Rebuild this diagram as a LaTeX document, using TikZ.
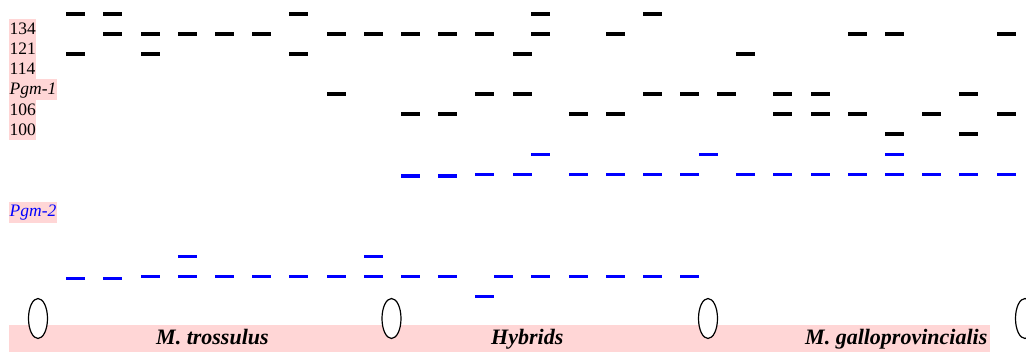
\documentclass[tikz,border=0pt]{standalone}
\usepackage{fontspec}
\setmainfont{Liberation Serif}
\definecolor{bandpink}{RGB}{255,214,214}
\definecolor{pgmblue}{RGB}{0,0,255}
\begin{document}
\begin{tikzpicture}[x=1pt,y=-1pt,
  rowlabel/.style={anchor=base west,inner sep=0pt,font=\fontsize{17.5}{20}\selectfont},
  grouplabel/.style={anchor=base west,inner sep=0pt,font=\fontsize{22}{26}\selectfont\bfseries\itshape},
  blackband/.style={fill=black},
  blueband/.style={fill=pgmblue},
  well/.style={draw=black,line width=1.2pt,fill=white}]
\useasboundingbox (0,0) rectangle (1026,352);
% label backgrounds
\fill[bandpink] (9,19.5) rectangle (36,140.5);
\fill[bandpink] (36,79) rectangle (57,100);
\fill[bandpink] (9,201.7) rectangle (57,223);
% bottom band
\fill[bandpink] (9,325) rectangle (990,352);
% row labels
\node[rowlabel] (l134) at (9.5,35) {134};
\node[rowlabel] (l121) at (9.5,55) {121};
\node[rowlabel] (l114) at (9.5,75) {114};
\node[rowlabel] (lpgm1) at (9.5,95) {\itshape Pgm-1};
\node[rowlabel] (l106) at (9.5,115.5) {106};
\node[rowlabel] (l100) at (9.5,135.5) {100};
\node[rowlabel,text=pgmblue] (lpgm2) at (9.5,217) {\itshape Pgm-2};
% black bands (Pgm-1)
\foreach \x in {66,103,289,531,643.3} \fill[blackband] (\x,12) rectangle ++(19,4);
\foreach \x in {103,140.5,177.6,214.8,252,326.5,363.6,401,438,475,531,606,847.7,885,996.7} \fill[blackband] (\x,32) rectangle ++(19,4);
\foreach \x in {66,140.5,289,512.5,736} \fill[blackband] (\x,52) rectangle ++(19,4);
\foreach \x in {326.5,475,512.5,643.3,680,717.3,773.3,810.7,959.3} \fill[blackband] (\x,92) rectangle ++(19,4);
\foreach \x in {401,438,568.7,606,773.3,810.7,847.7,922.3,996.7} \fill[blackband] (\x,112) rectangle ++(19,4);
\foreach \x in {885,959.3} \fill[blackband] (\x,132) rectangle ++(19,4);
% blue bands (Pgm-2)
\foreach \x in {531.3,699,885} \fill[blueband] (\x,152.6) rectangle ++(19,3.4);
\foreach \x in {401,438} \fill[blueband] (\x,174.5) rectangle ++(19,3.4);
\foreach \x in {475,512.5,568.7,606,643.3,680,736,773.3,810.7,847.7,885,922.3,959.3,996.7} \fill[blueband] (\x,173) rectangle ++(19,3.4);
\foreach \x in {177.6,363.6} \fill[blueband] (\x,255) rectangle ++(19,3.4);
\foreach \x in {66,103} \fill[blueband] (\x,276.6) rectangle ++(19,3.4);
\foreach \x in {140.5,177.6,214.8,252,289,326.5,363.6,401,438,494,531.3,568.7,606,643.3,680} \fill[blueband] (\x,275) rectangle ++(19,3.4);
\foreach \x in {475} \fill[blueband] (\x,295) rectangle ++(19,3.4);
% wells
\draw[well] (38,318.5) ellipse [x radius=9.5,y radius=20];
\draw[well] (391.5,318.5) ellipse [x radius=9.5,y radius=20];
\draw[well] (708,318.5) ellipse [x radius=9.5,y radius=20];
\draw[well] (1025,318.5) ellipse [x radius=9.5,y radius=20];
% group labels
\node[grouplabel] (gtross) at (156,345) {M. trossulus};
\node[grouplabel] (ghyb) at (491,345) {Hybrids};
\node[grouplabel] (ggallo) at (805,345) {M. galloprovincialis};
\end{tikzpicture}
\end{document}
